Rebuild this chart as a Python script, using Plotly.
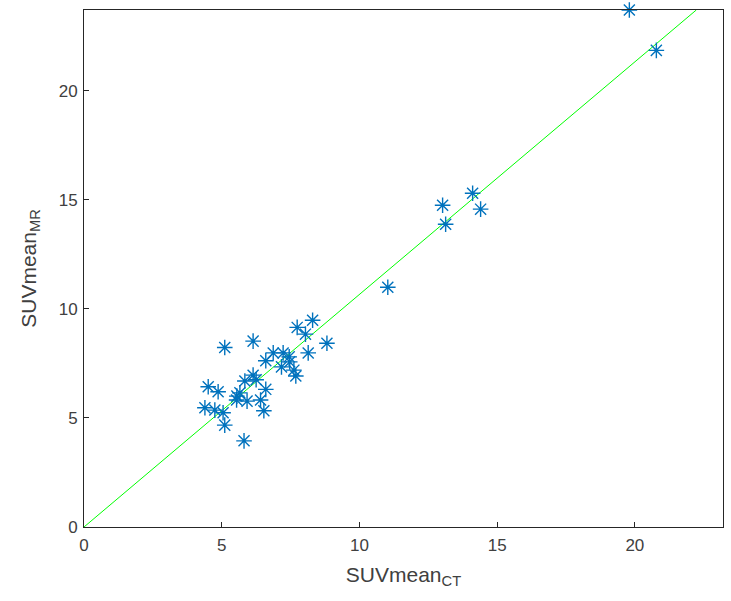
import plotly.graph_objects as go

suv_ct = [19.80, 20.78, 14.11, 13.02, 13.13, 14.40, 11.03, 8.30, 7.74, 8.04,
          8.82, 5.11, 6.14, 8.14, 6.87, 7.23, 6.60, 7.45, 7.17, 7.47,
          7.62, 7.69, 6.14, 5.84, 6.60, 4.51, 4.87, 5.66, 5.54, 5.92,
          6.41, 4.39, 4.75, 5.05, 6.53, 5.11, 5.81, 6.25, 5.55]
suv_mr = [23.70, 21.85, 15.30, 14.75, 13.88, 14.57, 10.99, 9.48, 9.15, 8.84,
          8.42, 8.23, 8.52, 7.98, 7.98, 7.98, 7.62, 7.80, 7.34, 7.57,
          7.19, 6.92, 6.96, 6.69, 6.31, 6.43, 6.20, 6.15, 5.82, 5.77,
          5.82, 5.47, 5.36, 5.24, 5.33, 4.67, 3.95, 6.75, 6.00]

fit_x = [0, 22.23]
fit_y = [0, 23.70]

x_range = [0, 23.2]
y_range = [0, 23.7]
tick_vals = [0, 5, 10, 15, 20]

txt_color = "#404040"
font_family = "Liberation Sans, Arial"

fig = go.Figure()
fig.add_trace(go.Scatter(x=fit_x, y=fit_y, mode="lines",
                         line=dict(color="#00FF00", width=1), showlegend=False))
fig.add_trace(go.Scatter(x=suv_ct, y=suv_mr, mode="markers",
                         marker=dict(symbol="asterisk-open", size=13,
                                     color="#0072BD",
                                     line=dict(color="#0072BD", width=1.4)),
                         showlegend=False, cliponaxis=False))

axis_common = dict(showgrid=False, zeroline=False, showline=True, mirror=True,
                   linecolor="#262626", linewidth=1, ticks="inside", ticklen=5,
                   tickcolor="#262626", tickvals=tick_vals,
                   tickfont=dict(family=font_family, size=17, color=txt_color))

fig.update_layout(
    width=731, height=601,
    margin=dict(l=84, r=8, t=10, b=74),
    plot_bgcolor="white", paper_bgcolor="white",
    xaxis=dict(range=x_range, ticklabelstandoff=3,
               title=dict(text="SUVmean<sub>CT</sub>", standoff=12,
               font=dict(family=font_family, size=21, color=txt_color)),
               **axis_common),
    yaxis=dict(range=y_range, ticklabelstandoff=2,
               title=dict(text="SUVmean<sub>MR</sub>", standoff=16,
               font=dict(family=font_family, size=21, color=txt_color)),
               **axis_common),
)

fig.write_html("out.html")
